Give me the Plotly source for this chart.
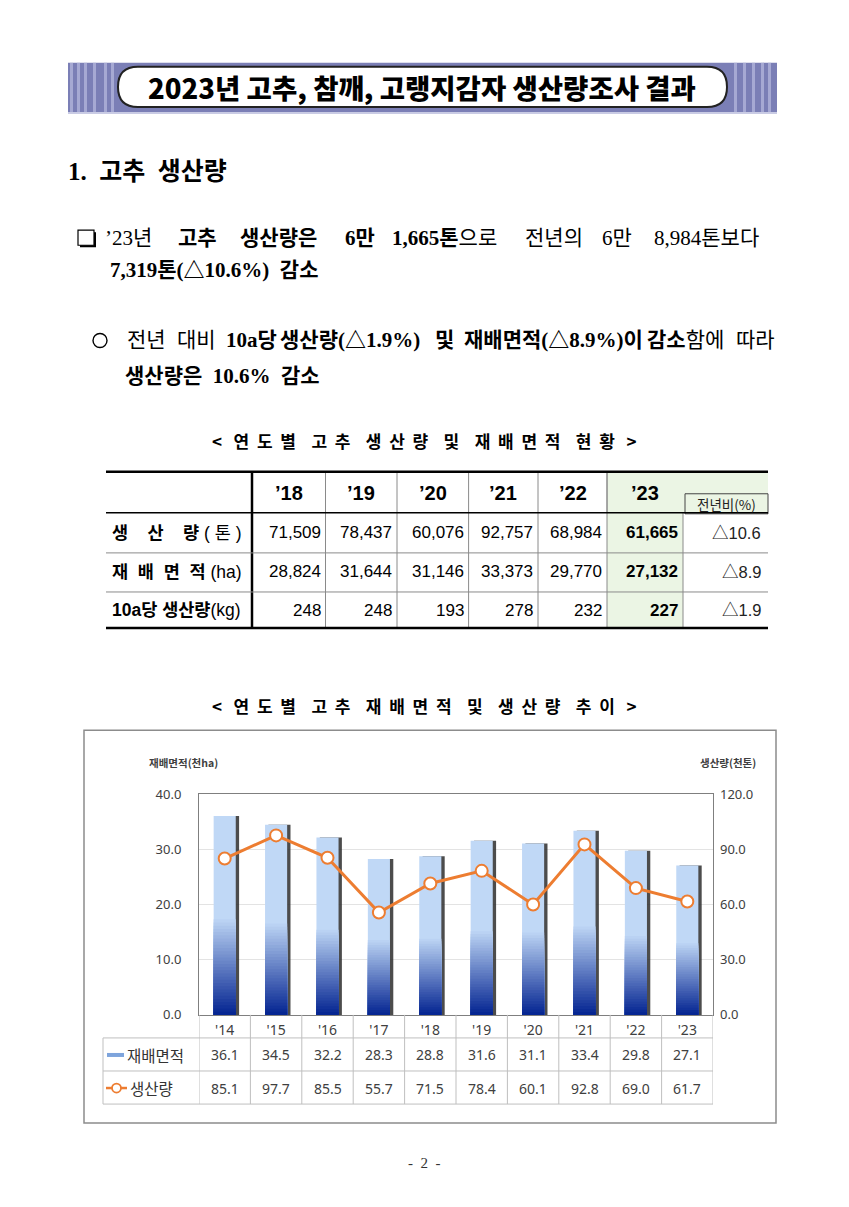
import plotly.graph_objects as go

W, H = 849, 1207

# chart data: 재배면적(천ha), 생산량(천톤)
years = ["'14", "'15", "'16", "'17", "'18", "'19", "'20", "'21", "'22", "'23"]
area_k = [36.1, 34.5, 32.2, 28.3, 28.8, 31.6, 31.1, 33.4, 29.8, 27.1]
prod_k = [85.1, 97.7, 85.5, 55.7, 71.5, 78.4, 60.1, 92.8, 69.0, 61.7]

# table data
tbl_years = ["’18", "’19", "’20", "’21", "’22", "’23"]
tbl_prod = [71509, 78437, 60076, 92757, 68984, 61665]
tbl_area = [28824, 31644, 31146, 33373, 29770, 27132]
tbl_yield = [248, 248, 193, 278, 232, 227]
tbl_yoy = ["△10.6", "△8.9", "△1.9"]
row_labels = ["<b>생    산    량</b> ( 톤 )", "<b>재  배  면  적</b> (ha)", "<b>10a당 생산량</b>(kg)"]

SERIF = "Liberation Serif, Noto Sans CJK KR"
SANS = "Liberation Sans, Noto Sans CJK KR"
KR = "Noto Sans CJK KR"
CHART = "Noto Sans, Noto Sans CJK KR"


def fx(p):
    return p / W


def fy(p):
    # the page came out slightly squeezed vertically, stretch back around the middle
    p = 603 + (p - 603) / 0.983
    return 1 - p / H


shapes = []
annotations = []


def rect(x0, y0, x1, y1, fill="rgba(0,0,0,0)", line=None, lw=1):
    shapes.append(dict(type="rect", xref="paper", yref="paper",
                       x0=fx(x0), x1=fx(x1), y0=fy(y1), y1=fy(y0),
                       fillcolor=fill, layer="below",
                       line=dict(color=line or "rgba(0,0,0,0)", width=lw if line else 0)))


def hline(x0, x1, y, color="#000", lw=1):
    shapes.append(dict(type="line", xref="paper", yref="paper",
                       x0=fx(x0), x1=fx(x1), y0=fy(y), y1=fy(y),
                       line=dict(color=color, width=lw)))


def vline(x, y0, y1, color="#000", lw=1):
    shapes.append(dict(type="line", xref="paper", yref="paper",
                       x0=fx(x), x1=fx(x), y0=fy(y0), y1=fy(y1),
                       line=dict(color=color, width=lw)))


def txt(x, y, s, size, family=SERIF, color="#000", anchor="left", weight="normal"):
    annotations.append(dict(x=fx(x), y=fy(y), xref="paper", yref="paper", text=s,
                            showarrow=False, xanchor=anchor, yanchor="middle",
                            font=dict(size=size, family=family, color=color, weight=weight)))


def rounded(x0, y0, x1, y1, r):
    pts = [("M", x0 + r, y0), ("L", x1 - r, y0), ("Q", x1, y0, x1, y0 + r),
           ("L", x1, y1 - r), ("Q", x1, y1, x1 - r, y1), ("L", x0 + r, y1),
           ("Q", x0, y1, x0, y1 - r), ("L", x0, y0 + r), ("Q", x0, y0, x0 + r, y0)]
    out = ""
    for p in pts:
        cmd, vals = p[0], p[1:]
        coords = []
        for i in range(0, len(vals), 2):
            coords.append(f"{fx(vals[i]):.5f},{fy(vals[i + 1]):.5f}")
        out += cmd + " " + " ".join(coords) + " "
    return out + "Z"


# ---- title banner
rect(68, 64, 777, 113, fill="#7b7fb6")
for sx in [70, 77, 84, 93, 104, 111]:
    rect(sx, 64, sx + 3, 113, fill="#a6a9d3")
for sx in [734, 743, 752, 761, 768]:
    rect(sx, 64, sx + 3, 113, fill="#a6a9d3")
hline(68, 777, 114, color="#c9cbe4", lw=2)
shapes.append(dict(type="path", xref="paper", yref="paper", path=rounded(118, 68, 727, 108, 20),
                   fillcolor="white", line=dict(color="#222", width=2)))
txt(422, 88, "2023년 고추, 참깨, 고랭지감자 생산량조사 결과", 27.5, family=KR,
    anchor="center", weight=900)

# ---- section heading and paragraphs
txt(66, 172, "<b>1.  고추  생산량</b>", 25)

rect(80, 233, 96, 248, fill="#000")
rect(78, 231, 94, 246, fill="white", line="#000", lw=1.2)
line1 = [("’23년", 103), ("<b>고추</b>", 176), ("<b>생산량은</b>", 238), ("<b>6만</b>", 343),
         ("<b>1,665톤</b>으로", 390), ("전년의", 523), ("6만", 600), ("8,984톤보다", 652)]
for w, x in line1:
    txt(x, 239, w, 21)
txt(108, 271, "<b>7,319톤(△10.6%)  감소</b>", 21)

shapes.append(dict(type="circle", xref="paper", yref="paper", x0=fx(93), x1=fx(107),
                   y0=fy(348), y1=fy(334), line=dict(color="#000", width=1.4)))
line2 = [("전년", 125), ("대비", 175), ("<b>10a당</b>", 224), ("<b>생산량(△1.9%)</b>", 278),
         ("<b>및</b>", 433), ("<b>재배면적(△8.9%)이</b>", 462), ("<b>감소</b>함에", 645), ("따라", 734)]
for w, x in line2:
    txt(x, 341, w, 21)
txt(123, 376, "<b>생산량은  10.6%  감소</b>", 21)

# ---- table
txt(424, 441, "<b><   연  도  별    고  추    생  산  량    및    재  배  면  적    현  황   ></b>", 17,
    family=KR, anchor="center")

col_edges = [252, 325.5, 397, 468.6, 538, 607, 683]
tbl_l, tbl_r = 106, 768
row_edges = [472, 513, 553, 592, 628]

rect(col_edges[-2], row_edges[0], col_edges[-1], row_edges[-1], fill="#ebf5e4")
rect(col_edges[-1], row_edges[0], tbl_r, row_edges[1], fill="#ebf5e4")
rect(685, 494, tbl_r, 514, line="#444", lw=1)
txt(726, 504, "전년비(%)", 13.5, family=KR, color="#222", anchor="center")

for i, e in enumerate(col_edges[1:]):
    vline(e, row_edges[0] if i < 5 else row_edges[1], row_edges[-1], color="#8a8a8a", lw=1)
vline(col_edges[-2], row_edges[0], row_edges[1], color="#8a8a8a", lw=1)
vline(col_edges[0], row_edges[0], row_edges[-1], color="#000", lw=2.5)
hline(tbl_l, tbl_r, row_edges[0], lw=2.5)
hline(tbl_l, tbl_r, row_edges[1], lw=1.5)
hline(tbl_l, tbl_r, row_edges[2], color="#8a8a8a", lw=1)
hline(tbl_l, tbl_r, row_edges[3], color="#8a8a8a", lw=1)
hline(tbl_l, tbl_r, row_edges[4], lw=2.5)

for i, y in enumerate(tbl_years):
    cx = (col_edges[i] + col_edges[i + 1]) / 2
    txt(cx, 493, f"<b>{y}</b>", 20, family=SANS, anchor="center")

row_mid = [533, 572, 610]
rows = [tbl_prod, tbl_area, tbl_yield]
for r, vals in enumerate(rows):
    txt(110, row_mid[r], row_labels[r], 17.5, family=SANS)
    for i, v in enumerate(vals):
        s = f"{v:,}"
        if i == len(vals) - 1:
            s = f"<b>{s}</b>"
        txt(col_edges[i + 1] - 3, row_mid[r], s, 17, family=SANS, anchor="right")
    txt(763, row_mid[r], tbl_yoy[r], 16.5, family=SANS, color="#222", anchor="right")

# ---- chart frame and texts
txt(424, 705, "<b><   연  도  별    고  추    재  배  면  적    및    생  산  량    추  이   ></b>", 17,
    family=KR, anchor="center")
rect(84, 730, 776, 1122, line="#8c8c8c", lw=1.5)
txt(147, 762, "<b>재배면적(천ha)</b>", 10.5, family=KR, color="#404040")
txt(758, 762, "<b>생산량(천톤)</b>", 10.5, family=KR, color="#404040", anchor="right")

# data table under the plot
grid = "#bfbfbf"
for i in range(len(years) + 1):
    shapes.append(dict(type="line", xref="x", yref="paper", x0=i - 0.5, x1=i - 0.5,
                       y0=fy(1014), y1=fy(1103), line=dict(color=grid, width=1)))
for y in [1037, 1070, 1103]:
    hline(103, 713, y, color=grid)
vline(103, 1037, 1103, color=grid)
hline(107, 124, 1054, color="#7ea4dc", lw=4)
txt(125, 1054, "재배면적", 15.5, family=KR, color="#333")
hline(106, 127, 1087, color="#ED7D31", lw=2.5)
shapes.append(dict(type="circle", xref="paper", yref="paper", x0=fx(112), x1=fx(121),
                   y0=fy(1091.5), y1=fy(1082.5), fillcolor="white",
                   line=dict(color="#ED7D31", width=1.8)))
txt(128, 1087, "생산량", 15.5, family=KR, color="#333")
for i, yr in enumerate(years):
    annotations.append(dict(x=yr, xref="x", y=fy(1054), yref="paper", text=f"{area_k[i]:.1f}",
                            showarrow=False, yanchor="middle",
                            font=dict(family=CHART, size=14, color="#404040")))
    annotations.append(dict(x=yr, xref="x", y=fy(1087), yref="paper", text=f"{prod_k[i]:.1f}",
                            showarrow=False, yanchor="middle",
                            font=dict(family=CHART, size=14, color="#404040")))

txt(424, 1162, "-  2  -", 15, color="#333", anchor="center")

# ---- traces
fig = go.Figure()
light = (192, 216, 246)
dark = (6, 38, 146)
bw = 0.43

fig.add_trace(go.Bar(x=years, y=area_k, width=bw, offset=-bw / 2 + 0.065,
                     marker=dict(color="rgba(45,45,45,0.85)", line=dict(width=0)),
                     hoverinfo="skip", showlegend=False))
fig.add_trace(go.Bar(x=years, y=area_k, width=bw, name="재배면적",
                     marker=dict(color=f"rgb{light}", line=dict(width=0)), showlegend=False))
N = 30
for k in range(N):
    frac = 0.48 * (N - k) / N
    t = (k + 1) / N
    c = tuple(round(light[j] + (dark[j] - light[j]) * t) for j in range(3))
    fig.add_trace(go.Bar(x=years, y=[v * frac for v in area_k], width=bw,
                         marker=dict(color=f"rgb{c}", line=dict(width=0)),
                         hoverinfo="skip", showlegend=False))

fig.add_trace(go.Scatter(x=years, y=prod_k, yaxis="y2", name="생산량", mode="lines+markers",
                         line=dict(color="#ED7D31", width=3),
                         marker=dict(size=12, color="white", line=dict(color="#ED7D31", width=2)),
                         showlegend=False))

tick_font = dict(family=CHART, size=13, color="#404040")
fig.update_layout(
    width=W, height=H,
    margin=dict(l=0, r=0, t=0, b=0),
    paper_bgcolor="white",
    plot_bgcolor="rgba(0,0,0,0)",
    barmode="overlay",
    showlegend=False,
    xaxis=dict(domain=[fx(199), fx(713)], type="category", range=[-0.5, 9.5],
               showline=True, mirror=True, linecolor="#7f7f7f", linewidth=1,
               showgrid=False, ticks="", tickfont=dict(family=CHART, size=14, color="#404040"),
               ticklabelstandoff=2),
    yaxis=dict(domain=[fy(1014), fy(794)], range=[0, 40], dtick=10, tickformat=".1f",
               showline=True, mirror=True, linecolor="#7f7f7f", linewidth=1,
               gridcolor="#e3e3e3", zeroline=False, ticks="", tickfont=tick_font,
               ticklabelstandoff=14),
    yaxis2=dict(overlaying="y", side="right", range=[0, 120], dtick=30, tickformat=".1f",
                showgrid=False, showline=False, zeroline=False, ticks="", tickfont=tick_font,
                ticklabelstandoff=6),
    shapes=shapes,
    annotations=annotations,
)

fig.write_html("out.html", config={"displayModeBar": False},
               post_script="document.body.style.margin='0';")
